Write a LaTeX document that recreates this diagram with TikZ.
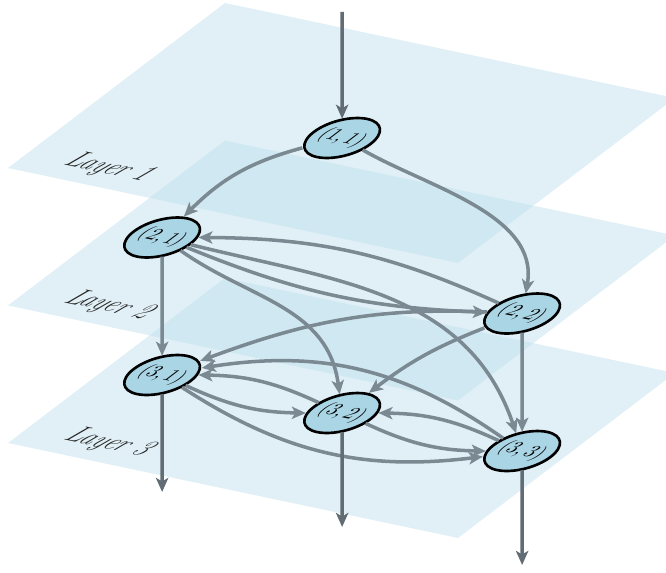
\documentclass[tikz,border=0pt]{standalone}
\usetikzlibrary{arrows.meta,shapes.geometric,calc}
\definecolor{planeblue}{RGB}{188,222,236}
\definecolor{nodeblue}{RGB}{170,213,229}
\definecolor{edgegray}{RGB}{122,137,146}
\definecolor{portgray}{RGB}{98,108,116}
\tikzset{
  % each layer is a slanted plane; nodes and labels lie in it
  layerone/.style={cm={1.0274,-0.2169,1.1144,0.8474,(0.16,8.08)}},
  layertwo/.style={cm={1.0274,-0.2169,1.1144,0.8474,(0.16,5.33)}},
  layerthree/.style={cm={1.0274,-0.2169,1.1144,0.8474,(0.16,2.58)}},
  plane/.style={fill=planeblue, fill opacity=0.45},
  state/.style={ellipse, draw=black, line width=1.5pt, fill=nodeblue,
    inner sep=0pt, minimum width=1.05cm, minimum height=0.9cm, transform shape},
  layerlabel/.style={transform shape, font=\fontsize{13.5}{16}\selectfont\itshape, text=black!85},
  link/.style={draw=edgegray, line width=2pt, -{Stealth[length=8pt,width=7pt,inset=2pt]}},
  iolink/.style={link, draw=portgray},
}
\begin{document}
\begin{tikzpicture}
\useasboundingbox (0,0) rectangle (13.32,11.44);
% the three planes
\begin{scope}[layerone]\fill[plane] (0,0) rectangle (8.76,3.894);\end{scope}
\begin{scope}[layertwo]\fill[plane] (0,0) rectangle (8.76,3.894);\end{scope}
\begin{scope}[layerthree]\fill[plane] (0,0) rectangle (8.76,3.894);\end{scope}
% labels and states of each layer
\begin{scope}[layerone]
  \node[layerlabel] (lab1) at (1.533,0.39) {Layer 1};
  \node[state] (n11) at (4.49,1.857) {$(1,1)$};
\end{scope}
\begin{scope}[layertwo]
  \node[layerlabel] (lab2) at (1.533,0.39) {Layer 2};
  \node[state] (n21) at (0.986,1.857) {$(2,1)$};
  \node[state] (n22) at (7.994,1.857) {$(2,2)$};
\end{scope}
\begin{scope}[layerthree]
  \node[layerlabel] (lab3) at (1.533,0.39) {Layer 3};
  \node[state] (n31) at (0.986,1.857) {$(3,1)$};
  \node[state] (n32) at (4.49,1.857) {$(3,2)$};
  \node[state] (n33) at (7.994,1.857) {$(3,3)$};
\end{scope}
% free ends of the input and output arrows
\coordinate (src) at (6.84,11.2);
\coordinate (sink1) at (3.24,1.6);
\coordinate (sink2) at (6.84,0.9);
\coordinate (sink3) at (10.38,0.14);
\draw[iolink] (n11 |- src) -- (n11);
% layer 1 to layer 2
\draw[link] (n11) to[bend right=15] (n21);
\draw[link] (n11) to[out=-25,in=95,looseness=0.85] (n22);
% within layer 2
\draw[link] (n21) to[bend right=10] (n22);
\draw[link] (n22) to[bend right=12] (n21);
% layer 2 to layer 3
\draw[link] (n21) -- (n31);
\draw[link] (n22) -- (n33);
\draw[link] (n21) to[out=-30,in=110] (n32);
\draw[link] (n21) to[out=-12,in=116] (n33);
\draw[link] (n22) to[out=180,in=25] (n31);
\draw[link] (n22) to[bend right=8] (n32);
% within layer 3
\draw[link] (n31) to[bend right=12] (n32);
\draw[link] (n32) to[bend right=12] (n31);
\draw[link] (n32) to[bend right=12] (n33);
\draw[link] (n33) to[bend right=12] (n32);
\draw[link] (n31) to[bend right=20] (n33);
\draw[link] (n33) to[bend right=22] (n31);
% outputs
\draw[iolink] (n31) -- (n31 |- sink1);
\draw[iolink] (n32) -- (n32 |- sink2);
\draw[iolink] (n33) -- (n33 |- sink3);
\end{tikzpicture}
\end{document}
